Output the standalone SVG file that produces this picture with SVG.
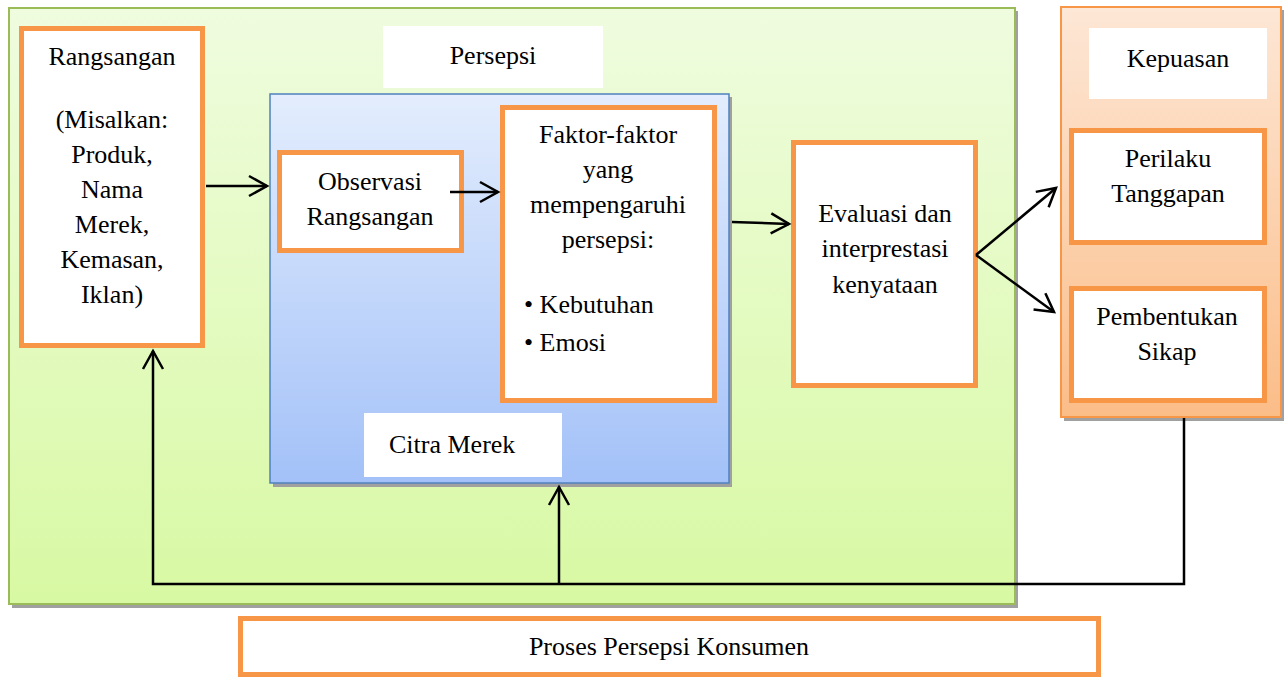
<svg xmlns="http://www.w3.org/2000/svg" width="1286" height="677" viewBox="0 0 1286 677">
<defs>
<linearGradient id="gGreen" x1="0" y1="0" x2="0" y2="1"><stop offset="0" stop-color="#effcdf"/><stop offset="1" stop-color="#d8f9a3"/></linearGradient>
<linearGradient id="gBlue" x1="0" y1="0" x2="0" y2="1"><stop offset="0" stop-color="#e3edfd"/><stop offset="1" stop-color="#a3c1f8"/></linearGradient>
<linearGradient id="gOrange" x1="0" y1="0" x2="0" y2="1"><stop offset="0" stop-color="#fde7d6"/><stop offset="1" stop-color="#fbbd88"/></linearGradient>
<marker id="arr" markerUnits="userSpaceOnUse" markerWidth="24" markerHeight="24" viewBox="-22 -12 24 24" refX="0" refY="0" orient="auto" overflow="visible">
<path d="M-18,-10 L0,0 L-18,10" fill="none" stroke="#000" stroke-width="2.5"/>
</marker>
<style>
.t{font-family:"Liberation Serif","Times New Roman",serif;font-size:26px;fill:#000;text-anchor:middle}
.tl{font-family:"Liberation Serif","Times New Roman",serif;font-size:26px;fill:#000}
.ob{fill:#fff;stroke:#f79646;stroke-width:5}
.wb{fill:#fff}
.sh{fill:#a0a0a0}
.ln{fill:none;stroke:#000;stroke-width:2.5}
</style>
</defs>

<g id="panel-persepsi-proses">
<rect class="sh" x="12" y="11" width="1006" height="597"/>
<rect x="9" y="8" width="1006" height="596" fill="url(#gGreen)" stroke="#9bbb59" stroke-width="2"/>
</g>

<g id="panel-kepuasan">
<rect class="sh" x="1064" y="10" width="220" height="411"/>
<rect x="1061" y="7" width="220" height="410" fill="url(#gOrange)" stroke="#f79646" stroke-width="2"/>
</g>

<g id="panel-citra">
<rect class="sh" x="273" y="97" width="459" height="390"/>
<rect x="270" y="94" width="459" height="389" fill="url(#gBlue)" stroke="#4f81bd" stroke-width="1.5"/>
</g>

<g id="node-rangsangan">
<rect class="ob" x="21.5" y="28.5" width="181" height="317"/>
<text class="t" x="112" y="65">Rangsangan</text>
<text class="t" x="112" y="128">(Misalkan:</text>
<text class="t" x="112" y="163">Produk,</text>
<text class="t" x="112" y="198">Nama</text>
<text class="t" x="112" y="233">Merek,</text>
<text class="t" x="112" y="268">Kemasan,</text>
<text class="t" x="112" y="303">Iklan)</text>
</g>

<g id="node-persepsi">
<rect class="wb" x="383" y="26" width="220" height="62"/>
<text class="t" x="493" y="64">Persepsi</text>
</g>

<g id="node-observasi">
<rect class="ob" x="279.5" y="152.5" width="182" height="98"/>
<text class="t" x="370" y="190">Observasi</text>
<text class="t" x="370" y="225">Rangsangan</text>
</g>

<g id="node-faktor">
<rect class="ob" x="502.5" y="107.5" width="212" height="293"/>
<text class="t" x="608" y="143">Faktor-faktor</text>
<text class="t" x="608" y="178">yang</text>
<text class="t" x="608" y="213">mempengaruhi</text>
<text class="t" x="608" y="248">persepsi:</text>
<text class="tl" x="524" y="313">• Kebutuhan</text>
<text class="tl" x="524" y="351">• Emosi</text>
</g>

<g id="node-citra-merek">
<rect class="wb" x="364" y="413" width="198" height="64"/>
<text class="tl" x="389" y="453">Citra Merek</text>
</g>

<g id="node-evaluasi">
<rect class="ob" x="793.5" y="142.5" width="182" height="243"/>
<text class="t" x="885" y="222">Evaluasi dan</text>
<text class="t" x="885" y="257">interprestasi</text>
<text class="t" x="885" y="293">kenyataan</text>
</g>

<g id="node-kepuasan">
<rect class="wb" x="1089" y="28" width="178" height="71"/>
<text class="t" x="1178" y="67">Kepuasan</text>
</g>

<g id="node-perilaku">
<rect class="ob" x="1071.5" y="130.5" width="193" height="112"/>
<text class="t" x="1168" y="167">Perilaku</text>
<text class="t" x="1168" y="202">Tanggapan</text>
</g>

<g id="node-pembentukan">
<rect class="ob" x="1071.5" y="288.5" width="193" height="112"/>
<text class="t" x="1167" y="325">Pembentukan</text>
<text class="t" x="1167" y="360">Sikap</text>
</g>

<g id="node-judul">
<rect class="ob" x="240.5" y="618.5" width="858" height="56"/>
<text class="t" x="669" y="655">Proses Persepsi Konsumen</text>
</g>

<g id="connectors">
<line class="ln" x1="206" y1="186" x2="267" y2="186" marker-end="url(#arr)"/>
<line class="ln" x1="450" y1="192" x2="498" y2="192" marker-end="url(#arr)"/>
<line class="ln" x1="732" y1="222" x2="789" y2="224" marker-end="url(#arr)"/>
<line class="ln" x1="976" y1="255" x2="1056" y2="188" marker-end="url(#arr)"/>
<line class="ln" x1="976" y1="255" x2="1054" y2="312" marker-end="url(#arr)"/>
<polyline class="ln" points="1184,418 1184,584 153,584 153,351" marker-end="url(#arr)"/>
<line class="ln" x1="559" y1="584" x2="559" y2="487" marker-end="url(#arr)"/>
</g>
</svg>
